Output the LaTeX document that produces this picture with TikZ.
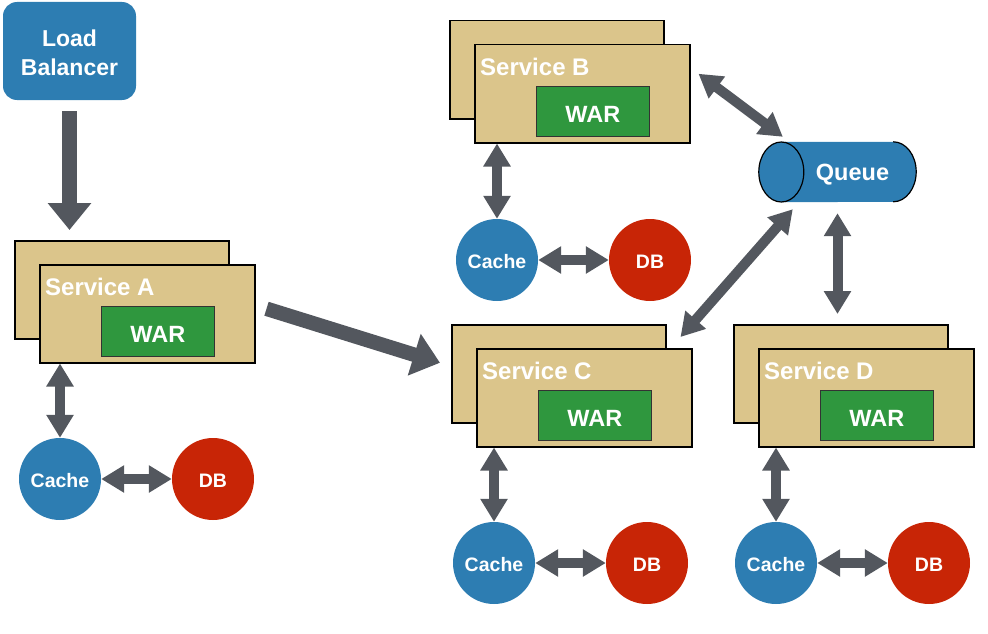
\documentclass[tikz,border=0pt]{standalone}
\usepackage{fontspec}
\setmainfont{Liberation Sans}
\usetikzlibrary{arrows.meta,calc}
\definecolor{nblue}{RGB}{45,125,178}
\definecolor{nred}{RGB}{200,37,6}
\definecolor{ntan}{RGB}{219,197,139}
\definecolor{ngreen}{RGB}{47,151,62}
\definecolor{agray}{RGB}{83,87,94}
\begin{document}
\begin{tikzpicture}[x=1pt,y=-1pt,
  back/.style={draw=black, line width=1.5pt, fill=ntan, minimum width=214pt, minimum height=98pt, anchor=north west, inner sep=0pt},
  front/.style={draw=black, line width=1.5pt, fill=ntan, minimum width=215pt, minimum height=98pt, anchor=north west, inner sep=0pt},
  lbl/.style={anchor=base west, inner sep=0pt, text=white, font=\fontsize{24}{28}\selectfont\bfseries},
  war/.style={anchor=north west, draw=black!80, line width=0.8pt, fill=ngreen, minimum width=113pt, minimum height=50pt, inner sep=0pt, text=white, text height=23pt, text depth=0pt, font=\fontsize{23.5}{28}\selectfont\bfseries},
  cache/.style={circle, fill=nblue, minimum size=82pt, inner sep=0pt, text=white, text height=17pt, text depth=0pt, font=\fontsize{19.5}{24}\selectfont\bfseries},
  db/.style={circle, fill=nred, minimum size=82pt, inner sep=0pt, text=white, text height=17pt, text depth=0pt, font=\fontsize{19.5}{24}\selectfont\bfseries},
  lbox/.style={rounded corners=14pt, fill=nblue, minimum width=133pt, minimum height=98pt, align=center, inner sep=0pt, text=white, font=\fontsize{23}{29}\selectfont\bfseries},
  qtext/.style={inner sep=0pt, text=white, font=\fontsize{23.5}{28}\selectfont\bfseries},
  dbl/.style={draw=agray, line width=10pt, {Triangle[length=23pt,width=26pt]}-{Triangle[length=23pt,width=26pt]}},
  big/.style={draw=agray, line width=14.5pt, -{Triangle[length=27pt,width=42pt]}}
]
\useasboundingbox (0,0) rectangle (988,634);

% Load balancer
\node[lbox] (LB) at (69.5,51) {\rule{0pt}{21pt}Load\\Balancer};

% Service A
\node[back] (Ab) at (14,240) {};
\node[front] (Af) at (39,264) {};
\node[lbl] (Al) at ($(Af.north west)+(6,31)$) {Service A};
\node[war] (Aw) at ($(Af.north west)+(62,42)$) {WAR};
\node[cache] (Ac) at (60,479) {Cache};
\node[db] (Ad) at (213,479) {DB};

% Service B
\node[back] (Bb) at (449,20) {};
\node[front] (Bf) at (474,44) {};
\node[lbl] (Bl) at ($(Bf.north west)+(6,31)$) {Service B};
\node[war] (Bw) at ($(Bf.north west)+(62,42)$) {WAR};
\node[cache] (Bc) at (497,260) {Cache};
\node[db] (Bd) at (650,260) {DB};

% Service C
\node[back] (Cb) at (451,324) {};
\node[front] (Cf) at (476,348) {};
\node[lbl] (Cl) at ($(Cf.north west)+(6,31)$) {Service C};
\node[war] (Cw) at ($(Cf.north west)+(62,42)$) {WAR};
\node[cache] (Cc) at (494,563) {Cache};
\node[db] (Cd) at (647,563) {DB};

% Service D
\node[back] (Db) at (733,324) {};
\node[front] (Df) at (758,348) {};
\node[lbl] (Dl) at ($(Df.north west)+(6,31)$) {Service D};
\node[war] (Dw) at ($(Df.north west)+(62,42)$) {WAR};
\node[cache] (Dc) at (776,563) {Cache};
\node[db] (Dd) at (929,563) {DB};

% Queue
\node[minimum width=157pt, minimum height=60pt, inner sep=0pt] (Q) at (837.5,172) {};
\fill[nblue] ($(Q.north west)+(22.5,0)$) -- ($(Q.north east)+(-23,0)$)
  arc[start angle=90, end angle=-90, x radius=23pt, y radius=30pt]
  -- ($(Q.south west)+(22.5,0)$) -- cycle;
\draw[black, line width=1.2pt] ($(Q.north east)+(-23,0)$)
  arc[start angle=90, end angle=-90, x radius=23pt, y radius=30pt];
\filldraw[fill=nblue, draw=black, line width=1.2pt] ($(Q.west)+(22.5,0)$) ellipse[x radius=22.5pt, y radius=30pt];
\node[qtext] (Qt) at ($(Q.center)+(15,2.5)$) {Queue};

% Connectors
\draw[big, shorten <=11pt, shorten >=10pt] (LB.south) -- (LB.south |- Ab.north);
\draw[big] ($(Af.east)+(11,-5)$) -- ($(Cb.west)+(-11,-11)$);

\draw[dbl] (Ac.north |- Af.south) -- (Ac.north);
\draw[dbl] (Ac) -- (Ad);
\draw[dbl] (Bc.north |- Bf.south) -- (Bc.north);
\draw[dbl] (Bc) -- (Bd);
\draw[dbl] (Cc.north |- Cf.south) -- (Cc.north);
\draw[dbl] (Cc) -- (Cd);
\draw[dbl] (Dc.north |- Df.south) -- (Dc.north);
\draw[dbl] (Dc) -- (Dd);

\draw[dbl] ($(Bf.east)+(8,-20)$) -- ($(Q.north west)+(24,-5)$);
\draw[dbl] ($(Q.south west)+(34,7)$) -- ($(Cf.north east)+(-12,-11)$);
\draw[dbl] ($(Q.south)+(0,11)$) -- ($(Q.south |- Db.north)+(0,-10)$);
\end{tikzpicture}
\end{document}
